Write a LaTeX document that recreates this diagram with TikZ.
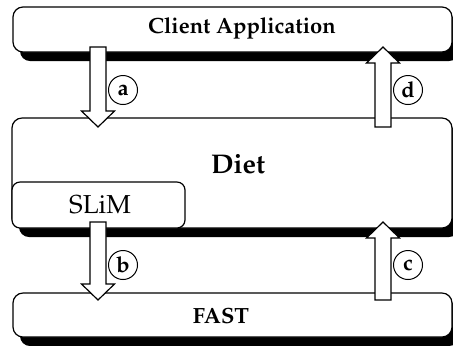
\documentclass[tikz,border=0pt]{standalone}
\usepackage[T1]{fontenc}
\usepackage{mathpazo}
\usetikzlibrary{calc,shadows}

\tikzset{
  layer/.style={draw, line width=0.6pt, fill=white, rounded corners=5pt, inner sep=0pt,
    general shadow={fill=black, shadow xshift=3.5pt, shadow yshift=-4.5pt}},
  sublayer/.style={draw, line width=0.6pt, fill=white, rounded corners=4pt, inner sep=0pt},
  stepmark/.style={circle, draw, line width=0.5pt, fill=white, minimum size=14.5pt, inner sep=0pt, font=\bfseries\fontsize{11}{11}\selectfont},
  blockarrow/.style={draw, fill=white, line width=0.6pt, line join=miter}
}

\newcommand{\blockarrow}[2]{%
  \draw[blockarrow] let \p1=(#1), \p2=(#2), \p3=($(#2)!8pt!(#1)$) in
    ({\x1-4pt},\y1) -- ({\x1-4pt},\y3) -- ({\x1-8.25pt},\y3) -- (\p2)
    -- ({\x1+8.25pt},\y3) -- ({\x1+4pt},\y3) -- ({\x1+4pt},\y1) -- cycle;}

\begin{document}
\begin{tikzpicture}[x=0.5pt,y=-0.5pt]
    \useasboundingbox (0,0) rectangle (453,345);
    % layers
    \node[layer, minimum width=219.5pt, minimum height=22.5pt] (client) at (232.5,29.5) {};
    \node[layer, minimum width=220pt, minimum height=55pt] (diet) at (232,173) {};
    \node[sublayer, minimum width=86.5pt, minimum height=23pt] (slim) at (98.5,205) {};
    \node[layer, minimum width=219.5pt, minimum height=22pt] (fast) at (232.5,315) {};
    \node[anchor=base, font=\bfseries\fontsize{11}{11}\selectfont] (clientlabel) at (242,33) {Client Application};
    \node[anchor=base, font=\bfseries\fontsize{13.5}{13.5}\selectfont] (dietlabel) at (238,173) {Diet};
    \node[anchor=base, font=\fontsize{13}{13}\selectfont] (slimlabel) at (100,213) {SLiM};
    \node[anchor=base, font=\bfseries\fontsize{11}{11}\selectfont] (fastlabel) at (221,323) {FAST};
    % calls
    \foreach \k/\x/\ys/\ye in {a/98/47/127, b/98/222/300, c/383/300/222, d/383/127/47} {
        \coordinate (\k s) at (\x,\ys);
        \coordinate (\k e) at (\x,\ye);
        \blockarrow{\k s}{\k e}
    }
    \foreach \k/\x/\y in {a/123/90, b/123/265, c/408/265, d/408/90}
        \node[stepmark] (\k) at (\x,\y) {\k};
\end{tikzpicture}
\end{document}
